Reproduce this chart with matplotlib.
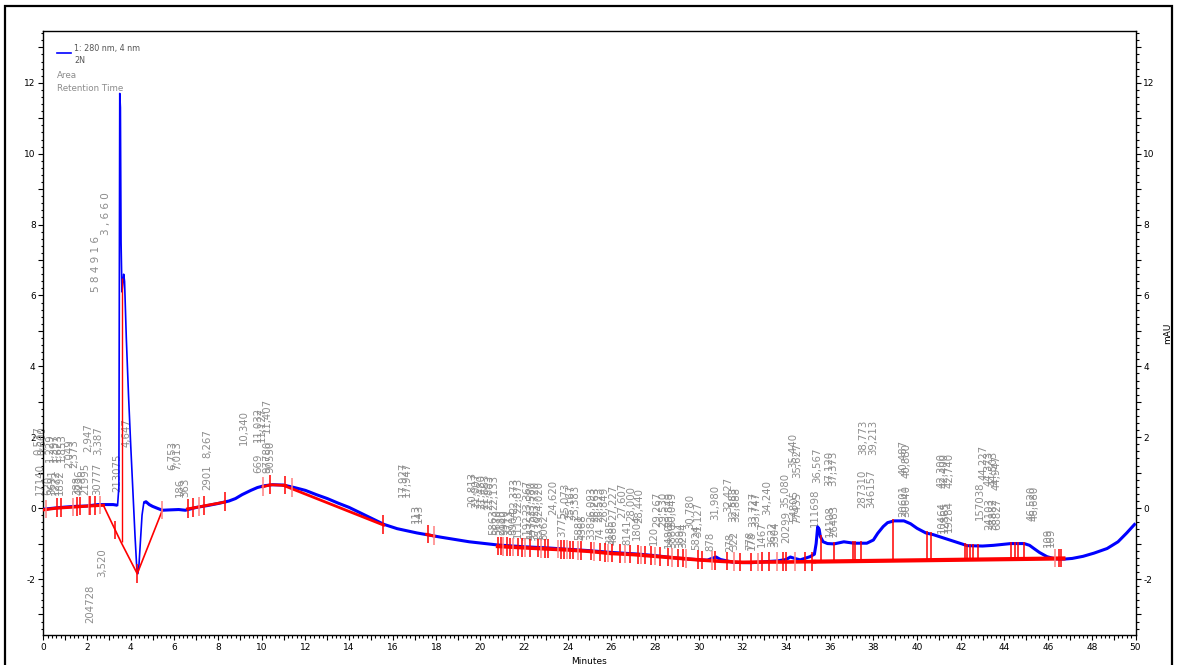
import numpy as np
import matplotlib
matplotlib.use("Agg")
import matplotlib.pyplot as plt
from matplotlib.ticker import MultipleLocator, FuncFormatter
from matplotlib.patches import Rectangle

# ---------------- data ----------------
trace_x = [0, 0.5, 1.0, 1.5, 2.0, 2.5, 2.9, 3.2, 3.4, 3.46, 3.5, 3.53, 3.56, 3.6, 3.65, 3.68,
           3.72, 3.8, 3.9, 4.0, 4.1, 4.2, 4.28, 4.33, 4.38, 4.45, 4.52, 4.6, 4.7, 4.85, 5.0,
           5.2, 5.45, 5.8, 6.2, 6.5, 6.7, 7.0, 7.5, 8.0, 8.5, 8.8, 9.1, 9.5, 9.8, 10.1, 10.5,
           11.0, 11.5, 12.0, 12.5, 13.0, 13.5, 14.0, 14.5, 15.0, 15.6, 16.2, 17.1, 18.2, 19.5,
           20.8, 22.0, 23.0, 24.0, 25.0, 26.0, 27.3, 28.0, 28.85, 29.6, 30.4, 30.6, 30.8, 31.0,
           31.6, 32.4, 33.1, 33.6, 34.0, 34.2, 34.4, 34.65, 35.1, 35.3, 35.38, 35.45, 35.52,
           35.57, 35.7, 35.9, 36.2, 36.65, 37.1, 37.7, 38.0, 38.2, 38.45, 38.65, 38.95, 39.4,
           39.7, 40.0, 40.4, 40.75, 41.1, 41.5, 41.9, 42.3, 43.0, 43.5, 44.3, 44.9, 45.15,
           45.35, 45.6, 45.95, 46.3, 46.7, 47.1, 47.6, 48.1, 48.7, 49.2, 49.6, 50.0]
trace_y = [-0.03, 0.0, 0.03, 0.05, 0.06, 0.1, 0.1, 0.1, 0.08, 0.6, 11.7, 11.3, 7.5, 6.1, 6.4, 6.6,
           6.4, 4.8, 3.2, 1.8, 0.5, -0.8, -1.7, -1.85, -1.6, -0.9, -0.2, 0.15, 0.18, 0.1, 0.05,
           0.0, -0.06, -0.05, -0.04, -0.06, -0.03, 0.02, 0.07, 0.13, 0.2, 0.27, 0.38, 0.5, 0.58,
           0.63, 0.66, 0.65, 0.58, 0.5, 0.38, 0.27, 0.14, 0.02, -0.13, -0.28, -0.46, -0.58, -0.7,
           -0.82, -0.95, -1.04, -1.09, -1.12, -1.16, -1.2, -1.25, -1.3, -1.34, -1.4, -1.44, -1.47,
           -1.42, -1.38, -1.45, -1.53, -1.54, -1.51, -1.49, -1.45, -1.38, -1.42, -1.46, -1.37,
           -1.3, -1.0, -0.53, -0.6, -0.8, -0.95, -1.0, -1.01, -0.95, -0.99, -0.99, -0.9, -0.71,
           -0.52, -0.41, -0.36, -0.36, -0.44, -0.57, -0.7, -0.75, -0.82, -0.9, -0.98, -1.06,
           -1.07, -1.05, -1.0, -1.0, -1.05, -1.14, -1.25, -1.37, -1.43, -1.44, -1.42, -1.36,
           -1.27, -1.14, -0.95, -0.7, -0.43]

# baseline segments (red)
base_a_x = [0, 0.6, 1.4, 2.1, 2.75]
base_a_y = [-0.05, 0.0, 0.03, 0.06, 0.08]
base_b_x = [2.75, 3.55, 4.3, 5.45]
base_b_y = [0.08, -0.95, -1.85, -0.06]
base_c_x = [6.6, 7.1, 7.5, 8.3]
base_c_y = [-0.02, 0.03, 0.08, 0.17]
base_d_x = [10.05, 10.4, 11.1]
base_d_y = [0.6, 0.66, 0.64]
base_e_x = [11.0, 15.58]
base_e_y = [0.64, -0.48]
base_f_x = [17.55, 17.9]
base_f_y = [-0.74, -0.79]
base_g_x = [20.8, 22.0, 23.0, 24.0, 25.0, 26.0, 27.0, 28.0, 29.0, 30.0, 31.0, 32.0, 33.0, 34.0, 35.3]
base_g_y = [-1.08, -1.12, -1.15, -1.18, -1.22, -1.28, -1.31, -1.36, -1.41, -1.46, -1.5, -1.53, -1.52, -1.52, -1.51]
base_h_x = [35.3, 46.7]
base_h_y = [-1.51, -1.42]

# peak start/end tick marks
tick_times = [0.12, 0.65, 0.81, 1.38, 1.53, 1.69, 2.07, 2.15, 2.38, 2.58, 3.3, 4.3, 5.45,
              6.62, 6.84, 7.11, 7.37, 8.33, 10.04, 10.39, 11.08, 11.39, 15.53, 17.6, 17.87,
              20.83, 20.97, 21.06, 21.25, 21.38, 21.52, 21.75, 21.93, 22.07, 22.3, 22.66, 22.8,
              22.99, 23.12, 23.54, 23.72, 23.86, 23.99, 24.13, 24.27, 24.5, 24.63, 25.09, 25.23,
              25.5, 25.73, 25.87, 26.05, 26.42, 26.65, 26.88, 27.24, 27.38, 27.56, 27.8, 28.02,
              28.25, 28.62, 28.8, 29.07, 29.3, 29.44, 29.95, 30.17, 30.59, 30.77, 31.32, 31.64,
              31.9, 32.4, 32.7, 32.92, 33.2, 33.6, 33.84, 34.02, 34.43, 34.89, 35.17, 46.3,
              46.49, 46.6]
drop_times = [35.58, 36.19, 37.06, 37.15, 37.44, 38.9, 40.46, 40.64, 42.2, 42.3, 42.42,
              42.55, 42.78, 44.3, 44.5, 44.6, 44.9]

# peak annotations (rotated text)
label_texts = ["17140", "0,537", "0,600", "620", "3691", "1272", "1892", "1,229", "1,397",
               "1,623", "1,853", "2,049", "2,373", "388", "4236", "21995", "2,947", "30777",
               "3,387", "213075", "4,647", "3,520", "204728", "6,753", "7,013", "186", "363",
               "2901", "8,267", "10,340", "669", "11,032", "11,127", "11,407", "97780", "90550",
               "17,927", "17,947", "113", "143",
               "20,813", "21,007", "21,480", "21,663", "21,883", "22,133", "22,373", "22,873",
               "23,367", "23,580", "23,720", "24,020", "24,620", "25,073", "25,167", "25,383",
               "26,093", "26,263", "26,523", "26,849", "27,227", "27,607", "28,000", "28,440",
               "29,267", "29,530", "29,849", "30,049", "30,780", "31,127", "31,980", "32,427",
               "32,583", "32,888", "33,727", "33,747", "34,240", "35,080", "35,440", "35,627",
               "36,567", "37,120", "37,373", "38,773", "39,213", "40,487", "40,880", "42,300",
               "42,400", "42,740", "44,227", "44,373", "44,503", "44,947", "46,520", "46,680",
               "5863", "5670", "2180", "9940", "3713", "8904", "1113", "1192", "4475", "3770",
               "1539", "8062", "3775", "5881", "4368", "338", "74", "3185", "4886", "8141",
               "1804", "120", "1480", "3880", "3894", "3294", "5824", "878", "278", "322",
               "778", "178", "1467", "3622", "3304", "20299", "77435", "54805", "111698",
               "14108", "26483", "287310", "346157", "20601", "30640", "10464", "12865",
               "19284", "157038", "24103", "38882", "68827", "109", "169"]
label_x = [-0.15, -0.24, -0.06, 0.22, 0.4, 0.58, 0.76, 0.31, 0.49, 0.67, 0.86, 1.18, 1.41,
           1.54, 1.68, 1.91, 2.05, 2.46, 2.5, 3.37, 3.83, 2.69, 2.14, 5.89, 6.12, 6.26, 6.49,
           7.49, 7.49, 9.19, 9.83, 9.83, 10.01, 10.24, 10.24, 10.38, 16.47, 16.65, 17.06, 17.2,
           19.63, 19.81, 20.04, 20.22, 20.4, 20.63, 21.55, 21.73, 22.14, 22.33, 22.51, 22.69,
           23.33, 23.88, 24.11, 24.34, 25.07, 25.26, 25.44, 25.67, 26.08, 26.49, 26.9, 27.27,
           28.09, 28.37, 28.64, 28.78, 29.6, 29.97, 30.75, 31.35, 31.58, 31.71, 32.49, 32.63,
           33.13, 33.95, 34.32, 34.5, 35.42, 35.97, 36.15, 37.52, 37.98, 39.36, 39.54, 41.14,
           41.28, 41.51, 43.06, 43.29, 43.48, 43.66, 45.26, 45.4,
           20.59, 20.77, 20.95, 21.13, 21.32, 21.5, 21.73, 22.14, 22.33, 22.51, 22.69, 22.92,
           23.74, 24.52, 24.7, 25.07, 25.48, 25.94, 26.12, 26.72, 27.18, 27.96, 28.65, 28.78,
           29.15, 29.28, 29.88, 30.56, 31.44, 31.62, 32.35, 32.44, 32.9, 33.36, 33.5, 34.0,
           34.5, 34.36, 35.33, 36.01, 36.2, 37.48, 37.89, 39.36, 39.5, 41.14, 41.28, 41.46,
           42.88, 43.29, 43.48, 43.66, 45.99, 46.13]
label_y = [0.37, 1.5, 1.5, 0.37, 0.37, 0.37, 0.37, 1.3, 1.3, 1.3, 1.3, 1.13, 1.13, 0.37, 0.37,
           0.37, 1.58, 0.37, 1.5, 0.45, 1.72, -1.95, -3.24, 1.07, 1.07, 0.31, 0.31, 0.51, 1.41,
           1.78, 0.99, 1.86, 1.86, 2.12, 0.99, 0.99, 0.31, 0.31, -0.42, -0.42,
           0.03, 0.0, -0.03, -0.03, -0.06, -0.06, -0.14, -0.14, -0.2, -0.22, -0.22, -0.22,
           -0.2, -0.28, -0.34, -0.34, -0.4, -0.4, -0.4, -0.4, -0.34, -0.28, -0.37, -0.42,
           -0.54, -0.54, -0.54, -0.54, -0.59, -0.82, -0.34, -0.11, -0.4, -0.4, -0.54, -0.54,
           -0.2, 0.0, 1.13, 0.85, 0.71, 0.62, 0.62, 1.5, 1.5, 0.93, 0.85, 0.56, 0.56, 0.56,
           0.79, 0.62, 0.62, 0.51, -0.37, -0.37,
           -0.76, -0.76, -0.76, -0.76, -0.76, -0.76, -0.85, -0.9, -0.9, -0.9, -0.9, -0.9,
           -0.82, -0.9, -0.9, -0.9, -0.9, -1.04, -1.04, -1.04, -0.9, -1.04, -1.13, -1.13,
           -1.13, -1.13, -1.19, -1.21, -1.24, -1.19, -1.19, -1.19, -1.1, -1.1, -1.1, -0.99,
           -0.45, -0.4, -0.54, -0.82, -0.82, 0.0, 0.0, -0.25, -0.25, -0.7, -0.7, -0.68,
           -0.34, -0.62, -0.62, -0.62, -1.1, -1.1]
big_labels = ["3,660", "584916"]
big_label_x = [2.87, 2.41]
big_label_y = [7.7, 6.1]

legend_lines = ["1: 280 nm, 4 nm", "2N"]
legend_extra = ["Area", "Retention Time"]

# ---------------- figure ----------------
W, H = 1178, 665
fig = plt.figure(figsize=(W / 100, H / 100), dpi=100)
ax = fig.add_axes([43.3 / W, 1 - 635 / H, (1135.5 - 43.3) / W, (635 - 30.7) / H])
ax.set_xlim(0, 50)
ax.set_ylim(-3.58, 13.47)

tx = np.array(trace_x)
ty = np.array(trace_y)
pre = tx <= 3.4
spike = (tx >= 3.4) & (tx <= 4.6)
post = tx >= 4.6
blue = "#0000ff"
ax.plot(tx[pre], ty[pre], color=blue, lw=2.2, solid_capstyle="butt", zorder=3)
ax.plot(tx[spike], ty[spike], color=blue, lw=1.2, zorder=3)
ax.plot(tx[post], ty[post], color=blue, lw=2.2, solid_capstyle="butt", zorder=3)

red = "#ff0000"
ax.plot(base_a_x, base_a_y, color=red, lw=2.2, zorder=5)
ax.plot(base_b_x, base_b_y, color=red, lw=1.2, zorder=5)
ax.plot(base_c_x, base_c_y, color=red, lw=2.0, zorder=5)
ax.plot(base_d_x, base_d_y, color=red, lw=2.0, zorder=5)
ax.plot(base_e_x, base_e_y, color=red, lw=2.0, zorder=5)
ax.plot(base_f_x, base_f_y, color=red, lw=2.0, zorder=5)
ax.plot(base_g_x, base_g_y, color=red, lw=2.6, zorder=5)
ax.plot(base_h_x, base_h_y, color=red, lw=3.0, zorder=5)

# vertical line from baseline up to the second apex
ax.vlines([3.58], [-0.95], [6.5], color=red, lw=1.0, zorder=5)

all_bx = base_a_x + base_b_x[1:] + base_c_x + base_d_x + base_e_x + base_f_x + base_g_x + base_h_x
all_by = base_a_y + base_b_y[1:] + base_c_y + base_d_y + base_e_y + base_f_y + base_g_y + base_h_y
order = np.argsort(all_bx)
bx = np.array(all_bx)[order]
by = np.array(all_by)[order]

for i, t in enumerate(tick_times):
    yc = np.interp(t, bx, by)
    c = red if i % 3 else "#ff8080"
    ax.vlines(t, yc - 0.25, yc + 0.27, color=c, lw=1.1, zorder=6)
for t in drop_times:
    yb = np.interp(t, bx, by)
    yt = np.interp(t, tx, ty)
    ax.vlines(t, yb - 0.05, yt + 0.05, color=red, lw=1.1, zorder=6)

lab_col = "#8c8c8c"
for s, x, y in zip(label_texts, label_x, label_y):
    ax.text(x, y, s, rotation=90, ha="center", va="bottom", fontsize=7.3,
            color=lab_col, clip_on=False, zorder=2)
for s, x, y in zip(big_labels, big_label_x, big_label_y):
    ax.text(x, y, " ".join(s), rotation=90, ha="center", va="bottom", fontsize=7.5,
            color=lab_col, clip_on=False, zorder=2)

# axes styling
for sp in ax.spines.values():
    sp.set_linewidth(1.0)
ax.xaxis.set_major_locator(MultipleLocator(1))
ax.xaxis.set_minor_locator(MultipleLocator(0.2))
ax.yaxis.set_major_locator(MultipleLocator(1))
ax.yaxis.set_minor_locator(MultipleLocator(0.2))
even = FuncFormatter(lambda v, p: f"{int(round(v))}" if int(round(v)) % 2 == 0 else "")
ax.xaxis.set_major_formatter(even)
ax.yaxis.set_major_formatter(even)
ax.tick_params(which="both", direction="out", right=True, labelright=True,
               top=False, labelsize=6.5, width=0.8, pad=2)
ax.tick_params(which="major", length=3.5)
ax.tick_params(which="minor", length=1.8)
ax.set_xlabel("Minutes", fontsize=6.5, labelpad=4)
ax.yaxis.set_label_position("right")
ax.set_ylabel("mAU", fontsize=6.5, labelpad=6)

# legend-like header
ax.plot([0.63, 1.27], [12.85, 12.85], color=blue, lw=1.2, clip_on=False)
ax.text(1.42, 12.97, legend_lines[0], fontsize=5.8, color="#555555", va="center")
ax.text(1.42, 12.62, legend_lines[1], fontsize=5.8, color="#555555", va="center")
ax.text(0.63, 12.22, legend_extra[0], fontsize=6.3, color="#8c8c8c", va="center")
ax.text(0.63, 11.85, legend_extra[1], fontsize=6.3, color="#8c8c8c", va="center")

# outer frame
fig.patches.append(Rectangle((5 / W, -0.05), 1167 / W, 1.05 - 6 / H, transform=fig.transFigure,
                             fill=False, edgecolor="black", lw=1.6))

fig.savefig("out.png", dpi=100)
